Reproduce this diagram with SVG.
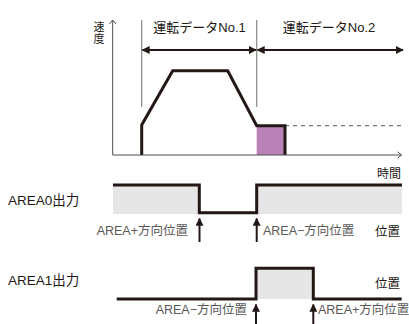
<svg xmlns="http://www.w3.org/2000/svg" width="409" height="324" viewBox="0 0 409 324">
<style>
.t{font-family:"Liberation Sans","Noto Sans CJK JP",sans-serif;fill:#231815}
.s{font-family:"Liberation Sans","Noto Sans CJK JP",sans-serif;fill:#595757;font-size:12.5px}
.sig{fill:none;stroke:#231815;stroke-width:3}
.ax{fill:none;stroke:#4d4d4d;stroke-width:1}
.thin{stroke:#888;stroke-width:1.2}
.dbl{stroke:#231815;stroke-width:2;marker-start:url(#ah);marker-end:url(#ah)}
.up{stroke:#231815;stroke-width:2;marker-end:url(#ah)}
</style>
<defs>
<marker id="ah" viewBox="0 0 10 10" refX="9" refY="5" markerWidth="4" markerHeight="4" orient="auto-start-reverse" markerUnits="strokeWidth">
<path d="M0,0 L10,5 L0,10 Z" fill="#231815"/>
</marker>
</defs>
<rect width="409" height="324" fill="#fff"/>
<g id="speed-chart">
<rect x="256.7" y="125.7" width="28.3" height="29.3" fill="#b981b6"/>
<line x1="285" y1="125.7" x2="403" y2="125.7" stroke="#777" stroke-width="1.2" stroke-dasharray="4,4"/>
<polyline class="sig" points="141.7,155 141.7,125 172.7,70.7 227.7,70.7 256.7,125.7 285,125.7 285,155"/>
</g>
<g id="axes">
<polyline class="ax" points="112.7,155 112.7,20"/>
<polyline class="ax" points="109.5,24 112.7,20 115.9,24"/>
<polyline class="ax" points="112.7,155 401.5,155"/>
<polyline class="ax" points="397.5,151.8 401.5,155 397.5,158.2"/>
<text class="t" x="93.5" y="31" font-size="11">速</text>
<text class="t" x="93.5" y="42.5" font-size="11">度</text>
<text class="t" x="401" y="178" font-size="12" text-anchor="end">時間</text>
</g>
<g id="connectors">
<line class="thin" x1="141.7" y1="20" x2="141.7" y2="107"/>
<line class="thin" x1="256.7" y1="20" x2="256.7" y2="107"/>
<line class="dbl" x1="142.5" y1="50" x2="256" y2="50"/>
<line class="dbl" x1="257.5" y1="50" x2="403" y2="50"/>
<line class="up" x1="199.5" y1="242" x2="199.5" y2="218.5"/>
<line class="up" x1="256.7" y1="242" x2="256.7" y2="218.5"/>
<line class="up" x1="256" y1="324" x2="256" y2="304.5"/>
<line class="up" x1="313.3" y1="324" x2="313.3" y2="304.5"/>
</g>
<g id="labels-top">
<text class="t" x="199.5" y="32" font-size="13" text-anchor="middle">運転データNo.1</text>
<text class="t" x="329" y="32" font-size="13" text-anchor="middle">運転データNo.2</text>
</g>
<g id="area0">
<path d="M113,185 H199.3 V213 H256.7 V185 H402 V214 H113 Z" fill="#e6e6e6"/>
<polyline class="sig" points="113,185 199.3,185 199.3,212.7 256.7,212.7 256.7,185 402,185"/>
<text class="t" x="8" y="205" font-size="13.5">AREA0出力</text>
<text class="s" x="188" y="235" text-anchor="end">AREA+方向位置</text>
<text class="s" x="263" y="235">AREA−方向位置</text>
<text class="t" x="400" y="236" font-size="12.5" text-anchor="end">位置</text>
</g>
<g id="area1">
<rect x="256" y="268.3" width="57.3" height="30.7" fill="#e6e6e6"/>
<polyline class="sig" points="116.7,299 256,299 256,268.3 313.3,268.3 313.3,299 401.7,299"/>
<text class="t" x="8" y="285" font-size="13.5">AREA1出力</text>
<text class="t" x="400" y="288" font-size="12.5" text-anchor="end">位置</text>
<text class="s" x="247" y="314" text-anchor="end">AREA−方向位置</text>
<text class="s" x="318" y="314">AREA+方向位置</text>
</g>
</svg>
